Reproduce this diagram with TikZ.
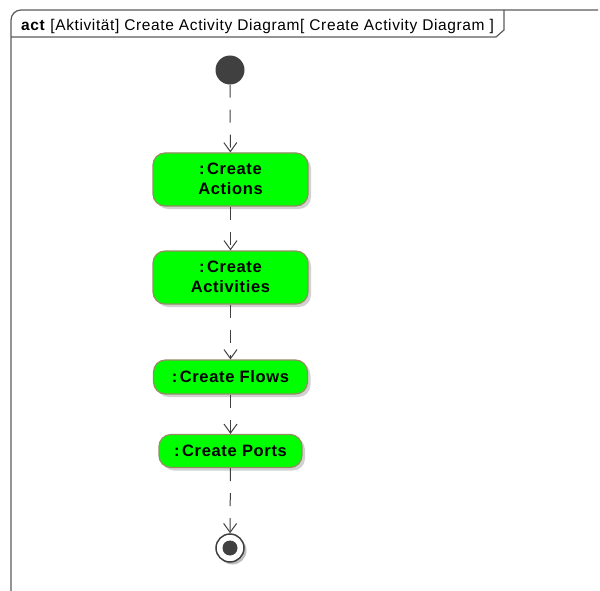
\documentclass[tikz,border=0pt]{standalone}
\usepackage{fontspec}
\setmainfont{Liberation Sans}[LetterSpace=4]
\usetikzlibrary{arrows.meta,shadows}
\definecolor{actfill}{RGB}{0,255,0}
\definecolor{actborder}{RGB}{150,140,100}
\definecolor{flowcol}{RGB}{64,64,64}
\definecolor{framecol}{RGB}{90,90,90}
\newcommand{\clspace}{:\kern2.5pt}
\begin{document}
\begin{tikzpicture}[x=1pt,y=-1pt,
  actbox/.style={draw=actborder, line width=1.2pt, fill=actfill, rounded corners=12pt,
    align=center, inner sep=0pt, font=\bfseries\fontsize{16.5}{19.5}\selectfont,
    drop shadow={shadow xshift=3pt, shadow yshift=-3pt, fill=black!18, opacity=1}},
  flow/.style={draw=flowcol, line width=1pt, dash pattern=on 13pt off 12pt,
    -{Straight Barb[length=9pt,width=13pt,line width=1pt]}},
  initnode/.style={circle, fill=flowcol, minimum size=29pt, inner sep=0pt},
  finalnode/.style={circle, draw=flowcol, line width=1.5pt, fill=white, minimum size=28pt, inner sep=0pt,
    drop shadow={shadow xshift=2.5pt, shadow yshift=-2.5pt, fill=black!25, opacity=1}},
  finalinner/.style={circle, fill=flowcol, minimum size=15pt, inner sep=0pt}
]
\useasboundingbox (0,0) rectangle (600,591);
% frame
\draw[framecol, line width=1.2pt, rounded corners=10pt] (11,591) -- (11,10) -- (598,10);
\draw[framecol, line width=1.2pt] (11,37) -- (496,37) -- (504,30) -- (504,10);
\node[anchor=base west, inner sep=0pt, font=\fontsize{15.5}{17}\selectfont] (title) at (21,31)
  {\textbf{act} [Aktivität] Create Activity Diagram[ Create Activity Diagram ]};
% nodes
\node[initnode] (init) at (230,70) {};
\node[actbox, minimum width=155pt, minimum height=53pt] (a1) at (230.5,179.5) {\raisebox{2pt}{\clspace Create}\\\raisebox{2pt}{Actions}};
\node[actbox, minimum width=155pt, minimum height=53pt] (a2) at (230.5,277.5) {\raisebox{2pt}{\clspace Create}\\\raisebox{2pt}{Activities}};
\node[actbox, minimum width=154pt, minimum height=34pt] (a3) at (230.5,377) {\clspace Create Flows};
\node[actbox, minimum width=143pt, minimum height=33pt] (a4) at (230.5,451) {\clspace Create Ports};
\node[finalnode] (final) at (230,548) {};
\node[finalinner] (finalc) at (final.center) {};
% flows
\draw[flow] (init) -- (a1);
\draw[flow] (a1) -- (a2);
\draw[flow] (a2) -- (a3);
\draw[flow] (a3) -- (a4);
\draw[flow] (a4) -- (final);
\end{tikzpicture}
\end{document}
